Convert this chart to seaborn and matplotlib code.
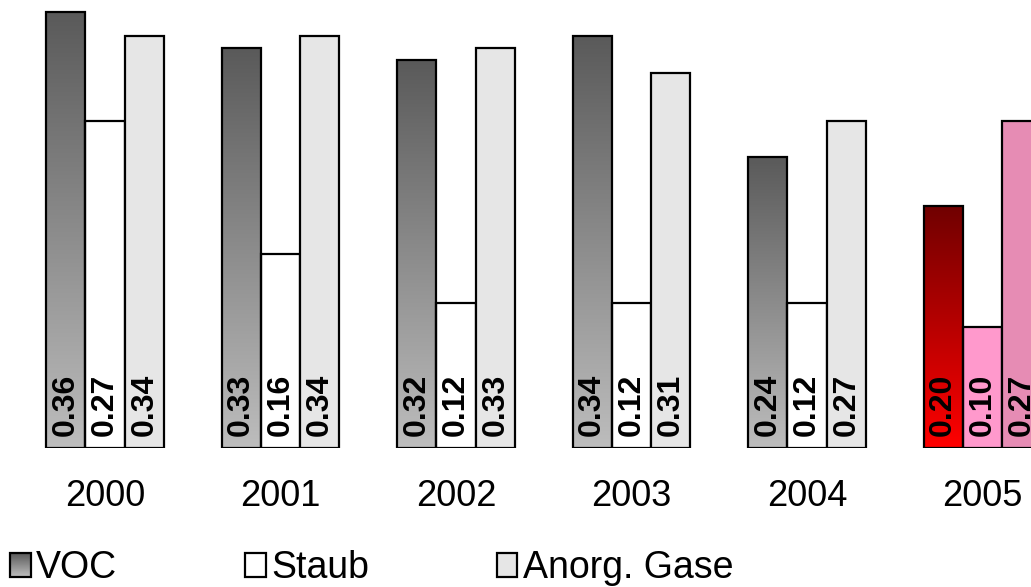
import numpy as np
import pandas as pd
import matplotlib
matplotlib.use("Agg")
import matplotlib.pyplot as plt
from matplotlib.colors import LinearSegmentedColormap
from matplotlib.patches import Rectangle, Patch
from matplotlib.legend_handler import HandlerBase
import seaborn as sns

# data
years = ["2000", "2001", "2002", "2003", "2004", "2005"]
voc = [0.36, 0.33, 0.32, 0.34, 0.24, 0.20]
staub = [0.27, 0.16, 0.12, 0.12, 0.12, 0.10]
anorg = [0.34, 0.34, 0.33, 0.31, 0.27, 0.27]
series = ["VOC", "Staub", "Anorg. Gase"]

df = pd.DataFrame({
    "year": years * 3,
    "series": [s for s in series for _ in years],
    "value": voc + staub + anorg,
})

gray_cmap = LinearSegmentedColormap.from_list("gray_grad", ["#bdbdbd", "#5a5a5a"])
red_cmap = LinearSegmentedColormap.from_list("red_grad", ["#ff0000", "#700000"])

sns.set_style("white")
plt.rcParams["font.family"] = ["Liberation Sans", "DejaVu Sans"]
plt.rcParams["text.color"] = "black"
plt.rcParams["xtick.color"] = "black"

fig = plt.figure(figsize=(10.31, 5.87), dpi=100)
base_px = 448
ax = fig.add_axes([0, (587 - base_px) / 587, 1, base_px / 587])

sns.barplot(data=df, x="year", y="value", hue="series", order=years,
            hue_order=series, palette=["#8c8c8c", "#ffffff", "#e6e6e6"],
            width=0.672, edgecolor="black", linewidth=1.6, saturation=1,
            legend=False, ax=ax)

# gradient fill for VOC bars, pink tones for 2005
grad = np.linspace(0, 1, 256).reshape(-1, 1)
last = len(years) - 1
for i, cont in enumerate(ax.containers):
    for j, bar in enumerate(cont):
        x0 = bar.get_x()
        w = bar.get_width()
        h = bar.get_height()
        if i == 0:
            cmap = red_cmap if j == last else gray_cmap
            ax.imshow(grad, extent=[x0, x0 + w, 0, h], origin="lower",
                      aspect="auto", cmap=cmap, zorder=0.5)
            bar.set_facecolor("none")
            bar.set_zorder(2)
        elif j == last:
            bar.set_facecolor("#ff99cc" if i == 1 else "#e68cb4")
        ax.text(x0 + w / 2, 0.010, f"{h:.2f}", rotation=90, ha="center",
                va="bottom", fontsize=23, fontweight="bold", color="black",
                zorder=3)

ax.set_xlim(-0.598, 5.276)
ax.set_ylim(0, base_px / 1211)
for s in ax.spines.values():
    s.set_visible(False)
ax.set_yticks([])
ax.set_xlabel("")
ax.set_ylabel("")
ax.tick_params(axis="x", length=0, pad=22, labelsize=26, labelcolor="black")


class GradientHandler(HandlerBase):
    def create_artists(self, legend, orig_handle, xdescent, ydescent,
                       width, height, fontsize, trans):
        n = 24
        arts = []
        for k in range(n):
            arts.append(Rectangle((-xdescent, -ydescent + height * k / n), width,
                                  height / n * 1.05, facecolor=gray_cmap(k / (n - 1)),
                                  edgecolor="none", transform=trans))
        arts.append(Rectangle((-xdescent, -ydescent), width, height,
                              facecolor="none", edgecolor="black", lw=1.6,
                              transform=trans))
        return arts


handles = [Patch(facecolor="#8c8c8c", edgecolor="black", lw=1.6),
           Patch(facecolor="#ffffff", edgecolor="black", lw=1.6),
           Patch(facecolor="#e6e6e6", edgecolor="black", lw=1.6)]
fig.legend(handles, series, handler_map={handles[0]: GradientHandler()},
           loc="lower left", bbox_to_anchor=(10 / 1031, 1 / 587), ncol=3,
           frameon=False, fontsize=27, borderpad=0, borderaxespad=0,
           handlelength=0.55, handleheight=0.62, handletextpad=0.15,
           columnspacing=3.4, labelcolor="black")

fig.savefig("out.png", dpi=100)
